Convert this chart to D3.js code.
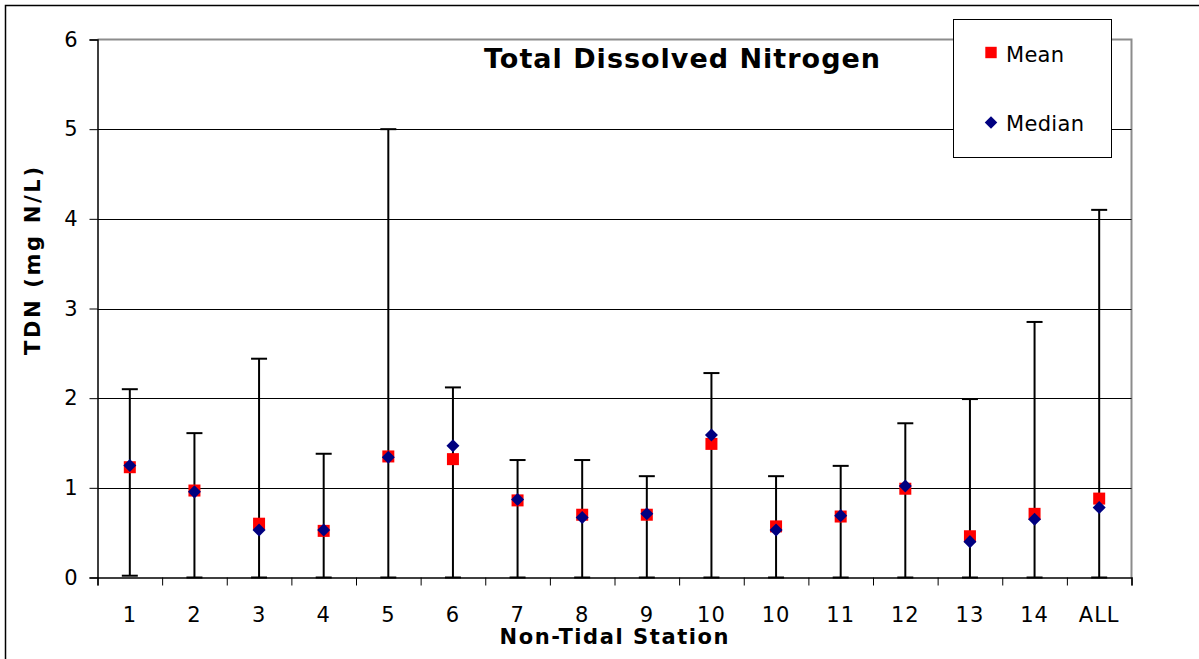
<!DOCTYPE html>
<html><head><meta charset="utf-8">
<script src="https://cdn.jsdelivr.net/npm/d3@7"></script>
<style>body{margin:0;background:#fff}svg{display:block}text{font-family:"DejaVu Sans",Verdana,sans-serif}</style>
</head><body><svg id="c" width="1199" height="659"></svg>
<script>
const categories = ["1","2","3","4","5","6","7","8","9","10","10","11","12","13","14","ALL"];
const meanValues = [1.23,0.97,0.60,0.52,1.35,1.32,0.86,0.70,0.70,1.49,0.57,0.68,0.99,0.46,0.71,0.88];
const medianValues = [1.25,0.955,0.53,0.53,1.34,1.47,0.87,0.67,0.71,1.59,0.53,0.69,1.02,0.40,0.65,0.78];
const maxValues = [2.10,1.61,2.44,1.38,5.00,2.12,1.31,1.31,1.13,2.28,1.13,1.245,1.72,1.99,2.85,4.10];
const minValues = [0.02,0,0,0,0,0,0,0,0,0,0,0,0,0,0,0];
const yTicks = [0,1,2,3,4,5,6];

const svg = d3.select("#c");
const L = 97.5, R = 1131.5, T = 39.5, B = 577.5;
const idx = d3.range(categories.length);
const x = d3.scaleBand().domain(idx).range([L, R]).padding(0);
const y = d3.scaleLinear().domain([0, 6]).range([B, T]);
const cx = i => x(i) + x.bandwidth()/2;

// outer frame
svg.append("rect").attr("x",5.5).attr("y",5.5).attr("width",1300).attr("height",700)
  .attr("fill","none").attr("stroke","#000").attr("stroke-width",1.5);

// plot border (gray top/right)
svg.append("path").attr("d",`M${L},${T}H${R}V${B}`).attr("fill","none").attr("stroke","#8c8c8c").attr("stroke-width",2);

// gridlines
svg.append("g").selectAll("line").data(yTicks.filter(d=>d>0&&d<6)).join("line")
  .attr("x1",L).attr("x2",R).attr("y1",d=>Math.round(y(d))+0.5).attr("y2",d=>Math.round(y(d))+0.5)
  .attr("stroke","#000").attr("stroke-width",1);

// y axis
const yAxis = svg.append("g").attr("transform",`translate(${L},0)`)
  .call(d3.axisLeft(y).tickValues(yTicks).tickSize(8).tickPadding(12).tickFormat(d3.format("d")));
yAxis.select(".domain").attr("stroke","#000").attr("stroke-width",1.5);
yAxis.selectAll(".tick line").attr("stroke","#000");
yAxis.selectAll("text").attr("font-size",21).attr("fill","#000").attr("font-family","DejaVu Sans");

// x axis
const xb = d3.scaleLinear().domain([0, categories.length]).range([L, R]);
const xAxisG = svg.append("g").attr("transform",`translate(0,${B})`);
xAxisG.call(d3.axisBottom(xb).tickValues(d3.range(categories.length+1)).tickSize(8).tickFormat(""));
xAxisG.select(".domain").attr("stroke","#000").attr("stroke-width",1.5);
xAxisG.selectAll(".tick line").attr("stroke","#000");
svg.append("g").selectAll("text").data(idx).join("text")
  .attr("x",cx).attr("y",621.5).attr("text-anchor","middle").attr("font-size",21).attr("fill","#000")
  .attr("letter-spacing",1)
  .text(i=>categories[i]);

// error bars
const eb = svg.append("g").attr("stroke","#000").attr("stroke-width",2);
eb.selectAll("line.v").data(idx).join("line").attr("class","v")
  .attr("x1",cx).attr("x2",cx).attr("y1",i=>y(minValues[i])).attr("y2",i=>y(maxValues[i]));
eb.selectAll("line.t").data(idx).join("line").attr("class","t")
  .attr("x1",i=>cx(i)-8).attr("x2",i=>cx(i)+8).attr("y1",i=>y(maxValues[i])).attr("y2",i=>y(maxValues[i]));
eb.selectAll("line.b").data(idx).join("line").attr("class","b")
  .attr("x1",i=>cx(i)-8).attr("x2",i=>cx(i)+8).attr("y1",i=>y(minValues[i])).attr("y2",i=>y(minValues[i]));

// markers
const sq = d3.symbol().type(d3.symbolSquare).size(144);
const dm = d3.symbol().type(d3.symbolSquare).size(85);
svg.append("g").selectAll("path").data(idx).join("path")
  .attr("d",sq).attr("transform",i=>`translate(${cx(i)},${y(meanValues[i])})`).attr("fill","#ff0000");
svg.append("g").selectAll("path").data(idx).join("path")
  .attr("d",dm)
  .attr("transform",i=>`translate(${cx(i)},${y(medianValues[i])}) rotate(45)`).attr("fill","#000080");

// title
svg.append("text").attr("x",682).attr("y",68).attr("text-anchor","middle").attr("font-size",27)
  .attr("font-weight","bold").attr("fill","#000").attr("textLength",396).attr("lengthAdjust","spacing")
  .text("Total Dissolved Nitrogen");

// legend
const lg = svg.append("g");
lg.append("rect").attr("x",953.5).attr("y",19.5).attr("width",158).attr("height",138)
  .attr("fill","#fff").attr("stroke","#000").attr("stroke-width",1);
lg.append("path").attr("d",d3.symbol().type(d3.symbolSquare).size(130)).attr("transform","translate(991,52.5)").attr("fill","#ff0000");
lg.append("path").attr("d",d3.symbol().type(d3.symbolSquare).size(78)).attr("transform","translate(991,122.5) rotate(45)").attr("fill","#000080");
lg.append("text").attr("x",1006).attr("y",61.5).attr("font-size",21).attr("fill","#000").attr("textLength",58).attr("lengthAdjust","spacing").text("Mean");
lg.append("text").attr("x",1006).attr("y",130.5).attr("font-size",21).attr("fill","#000").attr("textLength",78).attr("lengthAdjust","spacing").text("Median");

// axis titles
svg.append("text").attr("x",614).attr("y",644).attr("text-anchor","middle").attr("font-size",21)
  .attr("font-weight","bold").attr("fill","#000").attr("textLength",229).attr("lengthAdjust","spacing")
  .text("Non-Tidal Station");
svg.append("text").attr("transform","translate(40,261) rotate(-90)").attr("text-anchor","middle").attr("font-size",21)
  .attr("font-weight","bold").attr("fill","#000").attr("textLength",188).attr("lengthAdjust","spacing")
  .text("TDN (mg N/L)");
</script></body></html>
